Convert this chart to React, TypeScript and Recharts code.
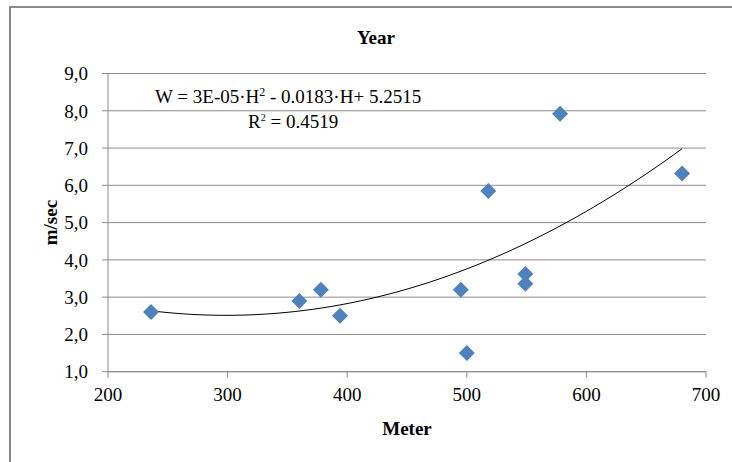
import React from "react"
import { ScatterChart, Scatter, XAxis, YAxis, CartesianGrid } from "recharts"

const meters = [236, 360, 378, 394, 495, 500, 518, 549, 549, 578, 680]
const speeds = [2.6, 2.9, 3.2, 2.5, 3.2, 1.5, 5.85, 3.62, 3.36, 7.92, 6.32]
const xTicks = [200, 300, 400, 500, 600, 700]
const yTicks = [1, 2, 3, 4, 5, 6, 7, 8, 9]

const points = meters.map((m, i) => ({ x: m, y: speeds[i] }))

// quadratic least squares, same as the Excel polynomial trendline
function fitQuadratic(xs: number[], ys: number[]) {
  const s = [0, 0, 0, 0, 0]
  const t = [0, 0, 0]
  xs.forEach((x, i) => {
    for (let k = 0; k < 5; k++) s[k] += Math.pow(x, k)
    for (let k = 0; k < 3; k++) t[k] += ys[i] * Math.pow(x, k)
  })
  const m = [
    [s[0], s[1], s[2], t[0]],
    [s[1], s[2], s[3], t[1]],
    [s[2], s[3], s[4], t[2]],
  ]
  for (let c = 0; c < 3; c++) {
    for (let r = c + 1; r < 3; r++) {
      const f = m[r][c] / m[c][c]
      for (let k = c; k < 4; k++) m[r][k] -= f * m[c][k]
    }
  }
  const coef = [0, 0, 0]
  for (let r = 2; r >= 0; r--) {
    let v = m[r][3]
    for (let k = r + 1; k < 3; k++) v -= m[r][k] * coef[k]
    coef[r] = v / m[r][r]
  }
  return coef
}

const coef = fitQuadratic(meters, speeds)
const xMin = Math.min(...meters)
const xMax = Math.max(...meters)
const trend = Array.from({ length: 60 }, (_, i) => {
  const x = xMin + ((xMax - xMin) * i) / 59
  return { x, y: coef[0] + coef[1] * x + coef[2] * x * x }
})

const font = "'Liberation Serif', 'Times New Roman', serif"

const Diamond = (props: any) => {
  const { cx, cy } = props
  const r = 8
  return (
    <polygon
      points={`${cx},${cy - r} ${cx + r},${cy} ${cx},${cy + r} ${cx - r},${cy}`}
      fill="#4f81bd"
    />
  )
}

export default function App() {
  return (
    <div style={{ position: "absolute", left: 0, top: 0, width: 732, height: 462, background: "#fff", overflow: "hidden" }}>
      <div
        style={{
          position: "absolute",
          left: 8.5,
          top: 5.5,
          width: 740,
          height: 470,
          borderTop: "2px solid #8a8a8a",
          borderLeft: "2px solid #8a8a8a",
        }}
      />
      <ScatterChart
        width={732}
        height={462}
        margin={{ top: 73.5, right: 26, bottom: 26, left: 0 }}
        style={{ position: "absolute", left: 0, top: 0, fontFamily: font }}
      >
        <CartesianGrid vertical={false} stroke="#8c8c8c" />
        <XAxis
          type="number"
          dataKey="x"
          domain={[200, 700]}
          ticks={xTicks}
          height={64.3}
          stroke="#8c8c8c"
          tickSize={6}
          tickMargin={10}
          tick={{ fill: "#000", fontSize: 19, fontFamily: font }}
          label={{ value: "Meter", position: "insideBottom", offset: 1, fill: "#000", fontSize: 19, fontWeight: "bold", fontFamily: font }}
        />
        <YAxis
          type="number"
          dataKey="y"
          domain={[1, 9]}
          ticks={yTicks}
          width={108}
          stroke="#8c8c8c"
          tickSize={6}
          tickMargin={14}
          tickFormatter={(v: number) => v.toFixed(1).replace(".", ",")}
          tick={{ fill: "#000", fontSize: 19, fontFamily: font }}
          label={(p: any) => {
            const vb = p.viewBox || {}
            const cy = (vb.y ?? 73.5) + (vb.height ?? 298) / 2
            return (
              <text
                x={57}
                y={cy}
                transform={`rotate(-90 57 ${cy})`}
                textAnchor="middle"
                fontSize={19}
                fontWeight="bold"
                fontFamily={font}
                fill="#000"
              >
                m/sec
              </text>
            )
          }}
        />
        <Scatter
          data={trend}
          line={{ stroke: "#000", strokeWidth: 1 }}
          lineType="joint"
          shape={() => <g />}
          isAnimationActive={false}
        />
        <Scatter data={points} shape={<Diamond />} isAnimationActive={false} />
      </ScatterChart>
      <svg width={732} height={462} style={{ position: "absolute", left: 0, top: 0, pointerEvents: "none" }}>
        <text x={376} y={44} textAnchor="middle" fontFamily={font} fontSize={19} fontWeight="bold" fill="#000">
          Year
        </text>
        <text x={155} y={103} fontFamily={font} fontSize={19} fill="#000">
          W = 3E-05·H<tspan fontSize={12} dy={-7}>2</tspan>
          <tspan dy={7}> - 0.0183·H+ 5.2515</tspan>
        </text>
        <text x={248} y={128} fontFamily={font} fontSize={19} fill="#000">
          R<tspan fontSize={10} dy={-7}>2</tspan>
          <tspan dy={7}> = 0.4519</tspan>
        </text>
      </svg>
    </div>
  )
}
